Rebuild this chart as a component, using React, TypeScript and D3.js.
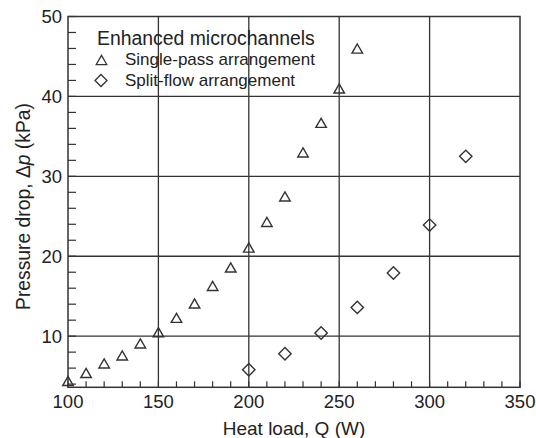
import React from "react";
import * as d3 from "d3";

const singleQ = [100, 110, 120, 130, 140, 150, 160, 170, 180, 190, 200, 210, 220, 230, 240, 250, 260];
const singleDp = [4.2, 5.2, 6.4, 7.4, 8.9, 10.3, 12.1, 13.9, 16.1, 18.4, 20.9, 24.1, 27.3, 32.8, 36.5, 40.8, 45.8];
const splitQ = [200, 220, 240, 260, 280, 300, 320];
const splitDp = [5.8, 7.8, 10.4, 13.6, 17.9, 23.9, 32.5];
const xMajor = [100, 150, 200, 250, 300, 350];
const yMajor = [10, 20, 30, 40, 50];

const W = 536, H = 438;
const left = 68, right = 520, top = 16.5, bottom = 387.3;
const FONT = "'Liberation Sans', Arial, Helvetica, sans-serif";
const INK = "#333";
const TXT = "#222";

export default function App() {
  const x = d3.scaleLinear().domain([100, 350]).range([left, right]);
  const y = d3.scaleLinear().domain([3.6, 50]).range([bottom, top]);
  const xMinor = d3.range(100, 351, 10);
  const yMinor = d3.range(4, 51, 2);
  const tri = d3.symbol().type(d3.symbolTriangle).size(48)();
  const dia = (s: number) => `M0,${-s}L${s},0L0,${s}L${-s},0Z`;

  return (
    <svg width={W} height={H} style={{ position: "absolute", left: 0, top: 0 }} fontFamily={FONT}>
      <rect x={0} y={0} width={W} height={H} fill="#fff" />
      {xMajor.slice(1, -1).map((v) => (
        <line key={"gx" + v} x1={x(v)} x2={x(v)} y1={top} y2={bottom} stroke={INK} strokeWidth={1.3} />
      ))}
      {yMajor.slice(0, -1).map((v) => (
        <line key={"gy" + v} x1={left} x2={right} y1={y(v)} y2={y(v)} stroke={INK} strokeWidth={1.3} />
      ))}
      {xMinor.map((v) => (
        <line key={"tx" + v} x1={x(v)} x2={x(v)} y1={bottom} y2={bottom - 6} stroke={INK} strokeWidth={1.2} />
      ))}
      {yMinor.map((v) => (
        <line key={"ty" + v} x1={left} x2={left + 8} y1={y(v)} y2={y(v)} stroke={INK} strokeWidth={1.2} />
      ))}
      <rect x={left} y={top} width={right - left} height={bottom - top} fill="none" stroke={INK} strokeWidth={1.5} />
      {xMajor.map((v) => (
        <text key={"lx" + v} x={x(v)} y={408} textAnchor="middle" fontSize={18.5} fill={TXT}>{v}</text>
      ))}
      {yMajor.map((v) => (
        <text key={"ly" + v} x={62} y={y(v)} dy="0.35em" textAnchor="end" fontSize={18.5} fill={TXT}>{v}</text>
      ))}
      <text x={294} y={435} textAnchor="middle" fontSize={19} fill={TXT}>Heat load, Q (W)</text>
      <text transform="translate(30,206.5) rotate(-90)" textAnchor="middle" fontSize={19.3} fill={TXT}>
        Pressure drop, Δ<tspan fontStyle="italic">p</tspan> (kPa)
      </text>
      {singleQ.map((q, i) => (
        <path key={"s" + i} d={tri} transform={`translate(${x(q)},${y(singleDp[i])})`} fill="none" stroke={INK} strokeWidth={1.4} />
      ))}
      {splitQ.map((q, i) => (
        <path key={"d" + i} d={dia(6.2)} transform={`translate(${x(q)},${y(splitDp[i])})`} fill="none" stroke={INK} strokeWidth={1.4} />
      ))}
      <text x={97} y={45} fontSize={19.4} fill={TXT}>Enhanced microchannels</text>
      <path d={tri} transform="translate(101.5,61.5)" fill="none" stroke={INK} strokeWidth={1.3} />
      <text x={125} y={64.5} fontSize={17} fill={TXT}>Single-pass arrangement</text>
      <path d={dia(6)} transform="translate(101,80.5)" fill="none" stroke={INK} strokeWidth={1.3} />
      <text x={125} y={86} fontSize={17} fill={TXT}>Split-flow arrangement</text>
    </svg>
  );
}
